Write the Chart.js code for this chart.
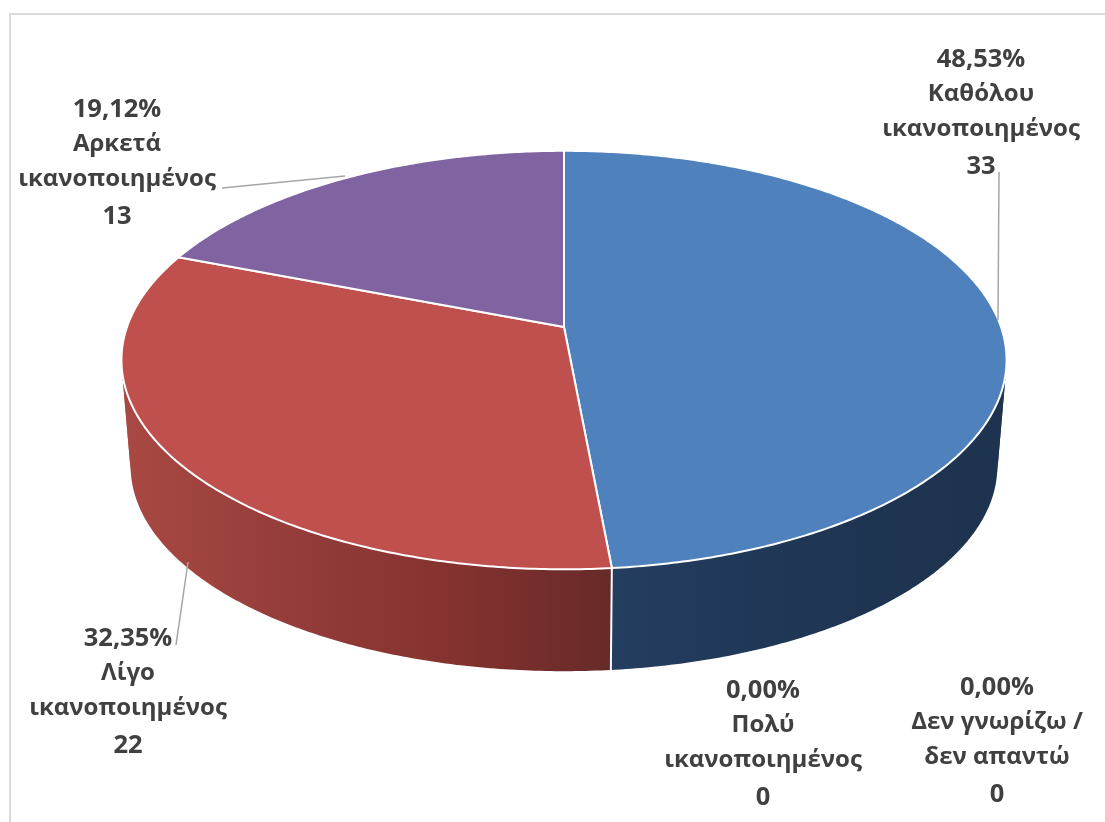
<!DOCTYPE html>
<html>
<head>
<meta charset="utf-8">
<title>Ικανοποίηση</title>
<script src="https://cdn.jsdelivr.net/npm/chart.js@4"></script>
<style>
  html, body { margin: 0; padding: 0; background: #fff; }
  canvas { display: block; }
</style>
</head>
<body>
<canvas id="pie" width="1105" height="822"></canvas>
<script>
const categories = [
    ['Καθόλου', 'ικανοποιημένος'],
    ['Λίγο', 'ικανοποιημένος'],
    ['Αρκετά', 'ικανοποιημένος'],
    ['Πολύ', 'ικανοποιημένος'],
    ['Δεν γνωρίζω /', 'δεν απαντώ'],
];
const counts = [33, 22, 13, 0, 0];
const percents = ['48,53%', '32,35%', '19,12%', '0,00%', '0,00%'];
const colors = ['#4F81BD', '#C0504D', '#8064A2', '#9BBB59', '#4BACC6'];

// layout only: where labels and leader lines sit
const labelPos = [[981, 58], [128, 637], [117, 108], [763, 689], [997, 686]];
const leaders = [
    [[999, 172], [998, 320]],
    [[188, 562], [176, 645]],
    [[222, 188], [345, 176]],
];
const wallStops = [
    [[131, '#2A4A72'], [611, '#243E60'], [800, '#1F3654'], [1000, '#1D334F']],
    [[131, '#A84842'], [300, '#933C39'], [450, '#85322F'], [611, '#672A28']],
    [[131, '#5F4A7A'], [1000, '#5F4A7A']],
    [[131, '#000'], [1000, '#000']],
    [[131, '#000'], [1000, '#000']],
];

// perspective view of the unit circle, the pie is tilted so its centre is not the ellipse centre
const CX = 564, CY = 327, TILT = -0.158;
function project(a, d, h, y0) {
    const u = Math.cos(a), v = Math.sin(a), w = 1 + TILT * v;
    return [CX + d * u / w, y0 + h * v / w];
}
const topPt = a => project(a, 437, 204, CY);
const lowPt = a => project(a, 427.9, 199.7, 434);

function samples(start, end) {
    const out = [];
    const n = Math.max(2, Math.ceil((end - start) / 0.01));
    for (let i = 0; i <= n; i++) out.push(start + (end - start) * i / n);
    return out;
}

function signedArea(q) {
    let s = 0;
    q.forEach((p, i) => {
        const n = q[(i + 1) % q.length];
        s += p[0] * n[1] - n[0] * p[1];
    });
    return s;
}

const tiltedPie = {
    id: 'tiltedPie',
    beforeDraw(chart) {
        const ctx = chart.ctx;
        ctx.fillStyle = '#D9D9D9';
        ctx.fillRect(9, 13, 1096, 2);
        ctx.fillRect(9, 13, 2, 809);
    },
    beforeDatasetsDraw(chart) {
        const ctx = chart.ctx;
        const arcs = chart.getDatasetMeta(0).data;
        ctx.save();

        // walls: strips share one path so no seams show, clockwise and
        // counter clockwise strips go separately or they cancel at the silhouette
        arcs.forEach((arc, i) => {
            if (counts[i] === 0) return;
            const angles = samples(arc.startAngle, arc.endAngle);
            const grad = ctx.createLinearGradient(131, 0, 1000, 0);
            wallStops[i].forEach(s => grad.addColorStop((s[0] - 131) / 869, s[1]));
            ctx.fillStyle = grad;
            [1, -1].forEach(sign => {
                ctx.beginPath();
                for (let k = 0; k + 1 < angles.length; k++) {
                    const q = [topPt(angles[k]), topPt(angles[k + 1]), lowPt(angles[k + 1]), lowPt(angles[k])];
                    if (signedArea(q) * sign < 0) continue;
                    q.forEach((p, n) => n ? ctx.lineTo(p[0], p[1]) : ctx.moveTo(p[0], p[1]));
                    ctx.closePath();
                }
                ctx.fill();
            });
        });

        // white seam between the two front walls
        const seam = arcs[0].endAngle;
        const s0 = topPt(seam), s1 = lowPt(seam);
        ctx.strokeStyle = '#fff';
        ctx.lineWidth = 2;
        ctx.beginPath();
        ctx.moveTo(s0[0], s0[1]);
        ctx.lineTo(s1[0], s1[1]);
        ctx.stroke();

        // top face
        arcs.forEach((arc, i) => {
            if (counts[i] === 0) return;
            ctx.beginPath();
            ctx.moveTo(CX, CY);
            samples(arc.startAngle, arc.endAngle).map(topPt).forEach(p => ctx.lineTo(p[0], p[1]));
            ctx.closePath();
            ctx.fillStyle = colors[i];
            ctx.fill();
            ctx.lineJoin = 'round';
            ctx.strokeStyle = '#fff';
            ctx.lineWidth = 2;
            ctx.stroke();
        });

        // leader lines
        ctx.strokeStyle = '#A6A6A6';
        ctx.lineWidth = 1.5;
        leaders.forEach(l => {
            ctx.beginPath();
            ctx.moveTo(l[0][0], l[0][1]);
            ctx.lineTo(l[1][0], l[1][1]);
            ctx.stroke();
        });

        // labels, the numbers run a little larger than the words
        ctx.fillStyle = '#404040';
        ctx.textAlign = 'center';
        ctx.textBaseline = 'middle';
        const wordFont = 'bold 24px "Open Sans"', numFont = 'bold 25.5px "Open Sans"';
        categories.forEach((cat, i) => {
            const [x, y] = labelPos[i];
            ctx.font = numFont;
            ctx.fillText(percents[i], x, y + 2);
            ctx.fillText(String(counts[i]), x, y + 3 * 35.8 + 1);
            ctx.font = wordFont;
            cat.forEach((t, j) => ctx.fillText(t, x, y + (j + 1) * 35.8));
        });

        ctx.restore();
        return false;
    }
};

new Chart(document.getElementById('pie'), {
    type: 'pie',
    data: {
        labels: categories.map(c => c.join(' ')),
        datasets: [{ data: counts, backgroundColor: colors }],
    },
    options: {
        responsive: false,
        animation: false,
        plugins: { legend: { display: false }, tooltip: { enabled: false } },
    },
    plugins: [tiltedPie],
});
</script>
</body>
</html>
